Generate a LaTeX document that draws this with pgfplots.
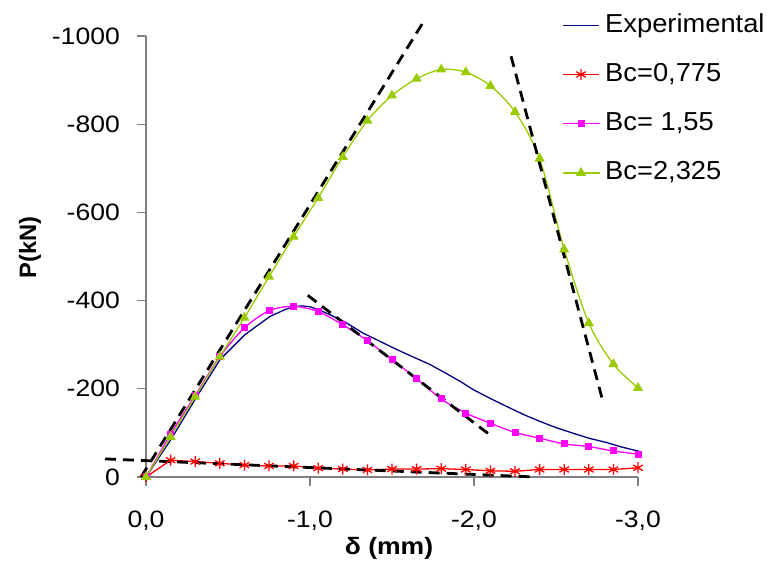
\documentclass[border=0pt]{standalone}
\usepackage{fontspec}
\setmainfont{Liberation Sans}[FakeStretch=1.12]
\newfontfamily\legfont{Liberation Sans}[FakeStretch=1.05]
\newfontfamily\uprightlabel{Liberation Sans}
\usepackage{pgfplots}
\pgfplotsset{compat=1.18}

\definecolor{expblue}{RGB}{0,0,128}
\definecolor{bcred}{RGB}{255,0,0}
\definecolor{bcmag}{RGB}{255,0,255}
\definecolor{bcgreen}{RGB}{153,204,0}
\definecolor{axgray}{RGB}{128,128,128}

\pgfplotsset{
  fitline/.style={black, line width=2.8pt, dash pattern=on 11pt off 7pt, forget plot},
}

\begin{document}
\begin{tikzpicture}
\begin{axis}[
  at={(146pt,87pt)}, anchor=south west,
  scale only axis, width=492pt, height=441pt,
  xmin=0, xmax=3, ymin=0, ymax=1000,
  clip=false,
  axis lines*=left,
  axis line style={axgray, line width=1.3pt},
  tick style={axgray, line width=1.3pt},
  tick align=outside, major tick length=9pt,
  xtick={0,1,2,3}, xticklabels={{0,0},{-1,0},{-2,0},{-3,0}},
  ytick={0,200,400,600,800,1000}, yticklabels={0,-200,-400,-600,-800,-1000},
  /pgf/number format/assume math mode=true,
  ticklabel style={font=\fontsize{23.7}{28}\selectfont, text=black, inner sep=0pt},
  xticklabel style={anchor=north, yshift=-25pt},
  yticklabel style={anchor=east, xshift=-17pt},
  xlabel={\textbf{δ (mm)}}, ylabel={\uprightlabel\bfseries P(kN)},
  label style={font=\fontsize{23.7}{28}\selectfont},
  xlabel style={at={(axis description cs:0.494,-0.161)}, anchor=center},
  ylabel style={at={(axis description cs:-0.236,0.52)}, anchor=center},
  legend style={draw=none, fill=none, inner sep=0pt,
    at={(axis description cs:0.846,1.052)}, anchor=north west,
    font=\legfont\fontsize{26}{30}\selectfont,
    row sep=25.2pt,
    nodes={text height=19pt, text depth=5pt, inner ysep=0pt, inner xsep=5.5pt}},
  legend cell align=left,
  legend image code/.code={
    \draw[mark repeat=2, mark phase=2, #1] plot coordinates {(0pt,0pt) (18pt,0pt) (36pt,0pt)};
  },
]
% measured load-displacement response
\addplot[expblue, line width=1.3pt] coordinates {
  (0,0) (0.157,88) (0.309,182) (0.451,266) (0.604,323) (0.756,364)
  (0.85,380) (0.898,386) (0.95,388) (1.0,386) (1.06,378) (1.122,368)
  (1.224,349) (1.325,326) (1.43,307) (1.529,289) (1.63,272) (1.732,255)
  (1.82,237) (1.915,217) (1.996,198) (2.1,178) (2.199,160) (2.3,142)
  (2.402,126) (2.5,112) (2.606,99) (2.7,88) (2.81,78) (2.9,68) (3.02,57)
};
\addlegendentry{Experimental}

\addplot[bcred, line width=1.3pt, mark=asterisk, mark size=5.5pt,
  mark options={line width=1.3pt}] coordinates {
  (0,0) (0.15,38) (0.30,35) (0.45,31) (0.60,27) (0.75,25) (0.90,25)
  (1.05,20) (1.20,18) (1.35,16) (1.50,18) (1.65,18) (1.80,19) (1.95,17)
  (2.10,14) (2.25,13) (2.40,17) (2.55,17) (2.70,17) (2.85,17) (3.00,21)
};
\addlegendentry{Bc=0,775}

\addplot[bcmag, line width=1.3pt, smooth, tension=0.5, mark=square*, mark size=2.85pt,
  mark options={solid}] coordinates {
  (0,0) (0.15,97) (0.30,185) (0.45,273) (0.60,338) (0.75,377) (0.90,387)
  (1.05,375) (1.20,345) (1.35,309) (1.50,266) (1.65,223) (1.80,177)
  (1.95,145) (2.10,122) (2.25,101) (2.40,88) (2.55,75) (2.70,69)
  (2.85,59) (3.00,52)
};
\addlegendentry{Bc= 1,55}

\addplot[bcgreen, line width=1.3pt, smooth, tension=0.5, mark=triangle*, mark size=4.6pt,
  mark options={solid}] coordinates {
  (0,0) (0.15,91) (0.30,182) (0.45,273) (0.60,361) (0.75,454) (0.90,545)
  (1.05,633) (1.20,726) (1.35,808) (1.50,865) (1.65,903) (1.80,924)
  (1.95,918) (2.10,887) (2.25,828) (2.40,722) (2.55,516) (2.70,349)
  (2.85,256) (3.00,202)
};
\addlegendentry{Bc=2,325}

% stiffness lines
\addplot[fitline] coordinates {(-0.03,0) (1.70,1037)};
\addplot[fitline] coordinates {(2.226,954) (2.789,167)};
\addplot[fitline] coordinates {(0.986,412) (2.102,94)};
\addplot[fitline] coordinates {(-0.25,41) (2.37,0)};
\end{axis}
% fixed page frame
\pgfresetboundingbox
\path[use as bounding box] (0pt,0pt) rectangle (769pt,564pt);
\end{tikzpicture}
\end{document}
